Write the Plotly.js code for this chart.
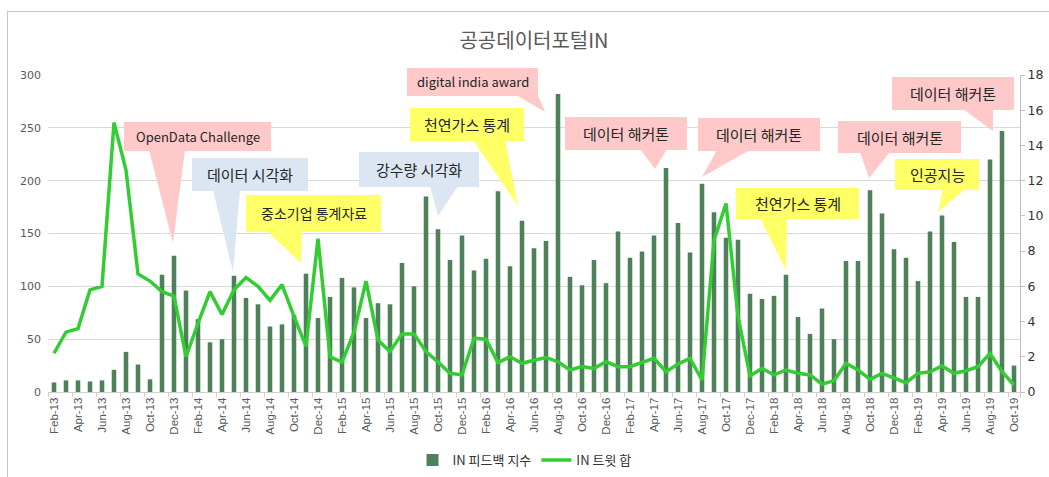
<!DOCTYPE html>
<html><head><meta charset="utf-8">
<script src="https://cdn.plot.ly/plotly-3.0.1.min.js"></script>
<style>
html,body{margin:0;padding:0;background:#fff;overflow:hidden}
#chart{position:absolute;left:0;top:0;width:1049px;height:477px}
#frame{position:absolute;left:7px;top:11px;width:1100px;height:600px;border-left:1.5px solid #c6c6c6;border-top:1.5px solid #c6c6c6;pointer-events:none}
</style></head><body>
<div id="chart"></div><div id="frame"></div>
<script>
const months = ["Feb-13","Mar-13","Apr-13","May-13","Jun-13","Jul-13","Aug-13","Sep-13","Oct-13","Nov-13","Dec-13",
"Jan-14","Feb-14","Mar-14","Apr-14","May-14","Jun-14","Jul-14","Aug-14","Sep-14","Oct-14","Nov-14","Dec-14",
"Jan-15","Feb-15","Mar-15","Apr-15","May-15","Jun-15","Jul-15","Aug-15","Sep-15","Oct-15","Nov-15","Dec-15",
"Jan-16","Feb-16","Mar-16","Apr-16","May-16","Jun-16","Jul-16","Aug-16","Sep-16","Oct-16","Nov-16","Dec-16",
"Jan-17","Feb-17","Mar-17","Apr-17","May-17","Jun-17","Jul-17","Aug-17","Sep-17","Oct-17","Nov-17","Dec-17",
"Jan-18","Feb-18","Mar-18","Apr-18","May-18","Jun-18","Jul-18","Aug-18","Sep-18","Oct-18","Nov-18","Dec-18",
"Jan-19","Feb-19","Mar-19","Apr-19","May-19","Jun-19","Jul-19","Aug-19","Sep-19","Oct-19"];

const feedbackIndex = [9,11,11,10,11,21,38,26,12,111,
129,96,69,47,50,110,89,83,62,64,
73,112,70,90,108,99,70,84,83,122,
100,185,154,125,148,115,126,190,119,162,
136,143,282,109,101,125,103,152,127,133,
148,212,160,132,197,170,146,144,93,88,
91,111,71,55,79,50,124,124,191,169,
135,127,105,152,167,142,90,90,220,247,
25];

const tweetSum = [2.2,3.4,3.6,5.8,6.0,15.3,12.6,6.7,6.3,5.7,
5.45,2.0,3.9,5.7,4.4,5.8,6.5,6.0,5.2,6.1,
4.3,2.6,8.7,2.0,1.7,3.4,6.3,2.95,2.3,3.3,
3.3,2.3,1.7,1.06,0.97,3.05,3.0,1.67,2.0,1.63,
1.8,1.95,1.72,1.25,1.44,1.34,1.72,1.44,1.44,1.67,
1.91,1.15,1.59,1.91,0.68,8.6,10.7,4.3,0.91,1.34,
0.97,1.25,1.06,0.97,0.45,0.64,1.63,1.25,0.72,1.06,
0.78,0.53,1.06,1.15,1.48,1.06,1.21,1.44,2.2,1.15,
0.4];

const tickLabels = months.filter((m,i)=>i%2===0);

const seriesNames = ["IN 피드백 지수","IN 트윗 합"];
const chartTitle = "공공데이터포털IN";

const calloutTexts = ["OpenData Challenge","데이터 시각화","중소기업 통계자료","강수량 시각화","천연가스 통계",
"digital india award","데이터 해커톤","데이터 해커톤","천연가스 통계","데이터 해커톤","인공지능","데이터 해커톤"];

// ---- styling / placement (pixel geometry of the callouts) ----
const PINK="#ffc9c9", BLUE="#dce6f2", YEL="#ffff66";
const calloutStyle = [
 {c:PINK, box:[124,122,271,151], base:[149,185], tip:[173,243], fs:13},
 {c:BLUE, box:[192,158,308,191], base:[213,240], tip:[233,272], fs:15},
 {c:YEL,  box:[246,195,381,232], base:[267,302], tip:[301,263], fs:14},
 {c:BLUE, box:[359,152,479,187], base:[430,458], tip:[438,216], fs:15},
 {c:YEL,  box:[410,108,524,141], base:[473,505], tip:[518,206], fs:15},
 {c:PINK, box:[407,68,538,96],   base:[516,538], tip:[545,112], fs:13},
 {c:PINK, box:[565,117,687,150], base:[640,667], tip:[655,169], fs:15},
 {c:PINK, box:[698,118,820,151], base:[717,750], tip:[702,177], fs:15},
 {c:YEL,  box:[736,188,859,219], base:[760,787], tip:[786,270], fs:15},
 {c:PINK, box:[838,121,961,153], base:[860,890], tip:[869,178], fs:15},
 {c:YEL,  box:[895,159,979,190], base:[943,965], tip:[938,212], fs:15},
 {c:PINK, box:[892,77,1014,110], base:[963,993], tip:[993,131], fs:15}
];
const L=48, R=1020, T=75, B=392;
const px = x => (x-L)/(R-L);
const py = y => (B-y)/(B-T);

const shapes=[], annotations=[];
calloutStyle.forEach((s,i)=>{
  const [x0,y0,x1,y1]=s.box;
  shapes.push({type:"rect",xref:"paper",yref:"paper",x0:px(x0),x1:px(x1),y0:py(y1),y1:py(y0),
    fillcolor:s.c,line:{width:0},layer:"above"});
  shapes.push({type:"path",xref:"paper",yref:"paper",layer:"above",fillcolor:s.c,line:{width:0},
    path:`M ${px(s.base[0])} ${py(y1-1)} L ${px(s.tip[0])} ${py(s.tip[1])} L ${px(s.base[1])} ${py(y1-1)} Z`});
  annotations.push({xref:"paper",yref:"paper",x:px((x0+x1)/2),y:py((y0+y1)/2),text:calloutTexts[i],showarrow:false,
    xanchor:"center",yanchor:"middle",font:{family:"Noto Sans CJK KR, Noto Sans",size:s.fs,color:"#262626"}});
});

const traces=[
 {type:"bar",x:months,y:feedbackIndex,name:seriesNames[0],marker:{color:"#4e8159"},width:0.38,yaxis:"y"},
 {type:"scatter",mode:"lines",x:months,y:tweetSum,name:seriesNames[1],line:{color:"#33cc33",width:3.5},yaxis:"y2"}
];

const layout={
 width:1049,height:477,
 margin:{l:L,r:1049-R,t:T,b:477-B,pad:0,autoexpand:false},
 paper_bgcolor:"#ffffff",plot_bgcolor:"#ffffff",
 font:{family:"Noto Sans CJK KR, Noto Sans",color:"#595959"},
 title:{text:chartTitle,x:0.5,xref:"paper",xanchor:"center",y:1-41/477,yref:"container",yanchor:"middle",
   font:{family:"Noto Sans CJK KR",size:20,color:"#595959"}},
 xaxis:{type:"category",categoryorder:"array",categoryarray:months,range:[-0.5,months.length-0.5],
   tickvals:tickLabels,ticktext:tickLabels,tickangle:-90,
   tickfont:{family:"Liberation Sans, Arial",size:11.5,color:"#595959"},
   showgrid:false,showline:true,linecolor:"#d0d0d0",linewidth:1,
   ticks:"outside",tickson:"boundaries",ticklen:4,tickcolor:"#d0d0d0",zeroline:false},
 yaxis:{range:[0,300],dtick:50,showgrid:true,gridcolor:"#d9d9d9",gridwidth:1,zeroline:false,showline:false,
   tickfont:{family:"DejaVu Sans",size:11,color:"#595959"},ticklabelstandoff:6},
 yaxis2:{range:[0,18],dtick:2,overlaying:"y",side:"right",showgrid:false,zeroline:false,
   showline:true,linecolor:"#bfbfbf",linewidth:1,ticks:"outside",ticklen:4,tickcolor:"#bfbfbf",
   tickfont:{family:"DejaVu Sans",size:12.5,color:"#333333"}},
 showlegend:true,
 legend:{orientation:"h",x:0.5,xanchor:"center",xref:"container",y:1-460/477,yref:"container",yanchor:"middle",
   font:{family:"Noto Sans CJK KR",size:13,color:"#333333"},itemwidth:30,traceorder:"normal"},
 bargap:0.6,
 shapes:shapes,annotations:annotations
};
Plotly.newPlot("chart",traces,layout,{displayModeBar:false,staticPlot:true});
</script></body></html>
